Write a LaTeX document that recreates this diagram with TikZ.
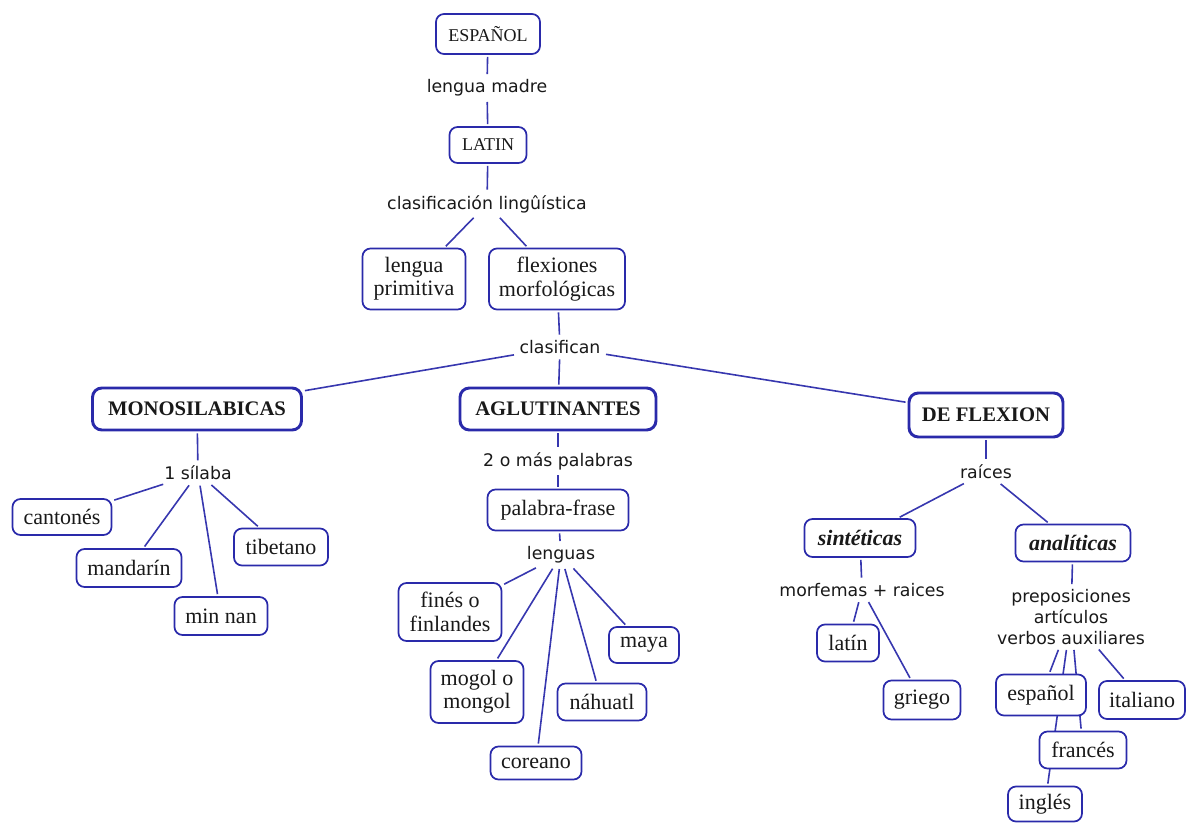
\documentclass[tikz,border=0pt]{standalone}
\usepackage{fontspec}
\setmainfont{Liberation Serif}
\newfontfamily\labfont{DejaVu Sans}
\usetikzlibrary{backgrounds}
\definecolor{cmblue}{RGB}{42,42,170}
\definecolor{cmline}{RGB}{55,55,175}
\definecolor{cmtext}{RGB}{25,25,25}
\tikzset{
  concept/.style={draw=cmblue, line width=1.3pt, rounded corners=6pt, fill=white,
    text=cmtext, inner sep=0pt, align=center, font=\fontsize{16.5}{17.5}\selectfont},
  topconcept/.style={concept, font=\fontsize{13.5}{15}\selectfont},
  mainconcept/.style={concept, line width=2.2pt, rounded corners=7pt, font=\bfseries\fontsize{15.5}{17}\selectfont},
  itconcept/.style={concept, font=\bfseries\itshape\fontsize{16.5}{17.5}\selectfont},
  linklabel/.style={text=cmtext, inner sep=2.5pt, align=center, font=\labfont\fontsize{13}{15.5}\selectfont},
  conn/.style={draw=cmline, line width=1.2pt, shorten <=1.5pt, shorten >=1.5pt}
}
\begin{document}
\begin{tikzpicture}[x=0.75pt,y=-0.75pt]
\useasboundingbox (0,0) rectangle (1186,822);
% concepts
\node[topconcept, minimum width=78pt, minimum height=30pt] (esp) at (488,34) {ESPAÑOL};
\node[topconcept, minimum width=57.75pt, minimum height=27pt] (lat) at (488,145) {LATIN};
\node[concept, minimum width=77.25pt, minimum height=45.75pt] (prim) at (414,279) {lengua\\primitiva};
\node[concept, minimum width=102pt, minimum height=45.75pt] (flex) at (557,279) {flexiones\\morfológicas};
\node[mainconcept, minimum width=156.75pt, minimum height=31.5pt] (mono) at (197,409) {MONOSILABICAS};
\node[mainconcept, minimum width=147pt, minimum height=31.5pt] (aglu) at (558,409) {AGLUTINANTES};
\node[mainconcept, minimum width=115.5pt, minimum height=33pt] (defl) at (986,415) {DE FLEXION};
\node[concept, minimum width=74.25pt, minimum height=27pt] (canton) at (62,517) {cantonés};
\node[concept, minimum width=78.75pt, minimum height=28.5pt] (mandarin) at (129,568) {mandarín};
\node[concept, minimum width=69.75pt, minimum height=28.5pt] (minnan) at (221,616) {min nan};
\node[concept, minimum width=70.5pt, minimum height=27.75pt] (tibet) at (281,547) {tibetano};
\node[concept, minimum width=105.75pt, minimum height=30.75pt] (palfr) at (558,510) {palabra-frase};
\node[concept, minimum width=77.25pt, minimum height=43.5pt] (fines) at (450,612) {finés o\\finlandes};
\node[concept, minimum width=69.75pt, minimum height=46.5pt] (mogol) at (477,692) {mogol o\\mongol};
\node[concept, minimum width=68.25pt, minimum height=24.75pt] (coreano) at (536,763) {coreano};
\node[concept, minimum width=66.75pt, minimum height=27.75pt] (nahuatl) at (602,702) {náhuatl};
\node[concept, minimum width=52.5pt, minimum height=27pt] (maya) at (644,645) {maya};
\node[itconcept, minimum width=83.25pt, minimum height=28.5pt] (sint) at (860,538) {sintéticas};
\node[itconcept, minimum width=86.25pt, minimum height=27.75pt] (anal) at (1073,543) {analíticas};
\node[concept, minimum width=46.5pt, minimum height=27.75pt] (latin) at (848,643) {latín};
\node[concept, minimum width=57.75pt, minimum height=29.25pt] (griego) at (922,700) {griego};
\node[concept, minimum width=67.5pt, minimum height=30.75pt] (espanol) at (1041,695) {español};
\node[concept, minimum width=65.25pt, minimum height=27.75pt] (frances) at (1083,750) {francés};
\node[concept, minimum width=64.5pt, minimum height=28.5pt] (italiano) at (1142,700) {italiano};
\node[concept, minimum width=55.5pt, minimum height=26.25pt] (ingles) at (1045,804) {inglés};
% linking phrases
\node[linklabel] (lmadre) at (487,88) {lengua madre};
\node[linklabel] (lclasif) at (487,204) {clasificación lingûística};
\node[linklabel] (lclasifican) at (560,347) {clasifican};
\node[linklabel] (lsil) at (198,473) {1 sílaba};
\node[linklabel] (lmas) at (558,461) {2 o más palabras};
\node[linklabel] (llenguas) at (561,555) {lenguas};
\node[linklabel] (lraices) at (986,472) {raíces};
\node[linklabel] (lmorf) at (862,590) {morfemas + raices};
\node[linklabel] (lprep) at (1071,617) {preposiciones\\artículos\\verbos auxiliares};
% connectors
\begin{scope}[on background layer]
\draw[conn] (esp) -- (lmadre);
\draw[conn] (lmadre) -- (lat);
\draw[conn] (lat) -- (lclasif);
\draw[conn] (lclasif) -- (prim);
\draw[conn] (lclasif) -- (flex);
\draw[conn] (flex) -- (lclasifican);
\draw[conn] (lclasifican) -- (mono);
\draw[conn] (lclasifican) -- (aglu);
\draw[conn] (lclasifican) -- (defl);
\draw[conn] (mono) -- (lsil);
\draw[conn] (lsil) -- (canton);
\draw[conn] (lsil) -- (mandarin);
\draw[conn] (lsil) -- (minnan);
\draw[conn] (lsil) -- (tibet);
\draw[conn] (aglu) -- (lmas);
\draw[conn] (lmas) -- (palfr);
\draw[conn] (palfr) -- (llenguas);
\draw[conn] (llenguas) -- (fines);
\draw[conn] (llenguas) -- (mogol);
\draw[conn] (llenguas) -- (coreano);
\draw[conn] (llenguas) -- (nahuatl);
\draw[conn] (llenguas) -- (maya);
\draw[conn] (defl) -- (lraices);
\draw[conn] (lraices) -- (sint);
\draw[conn] (lraices) -- (anal);
\draw[conn] (sint) -- (lmorf);
\draw[conn] (lmorf) -- (latin);
\draw[conn] (lmorf) -- (griego);
\draw[conn] (anal) -- (lprep);
\draw[conn] (lprep) -- (espanol);
\draw[conn] (lprep) -- (frances);
\draw[conn] (lprep) -- (ingles);
\draw[conn] (lprep) -- (italiano);
\end{scope}
\end{tikzpicture}
\end{document}
